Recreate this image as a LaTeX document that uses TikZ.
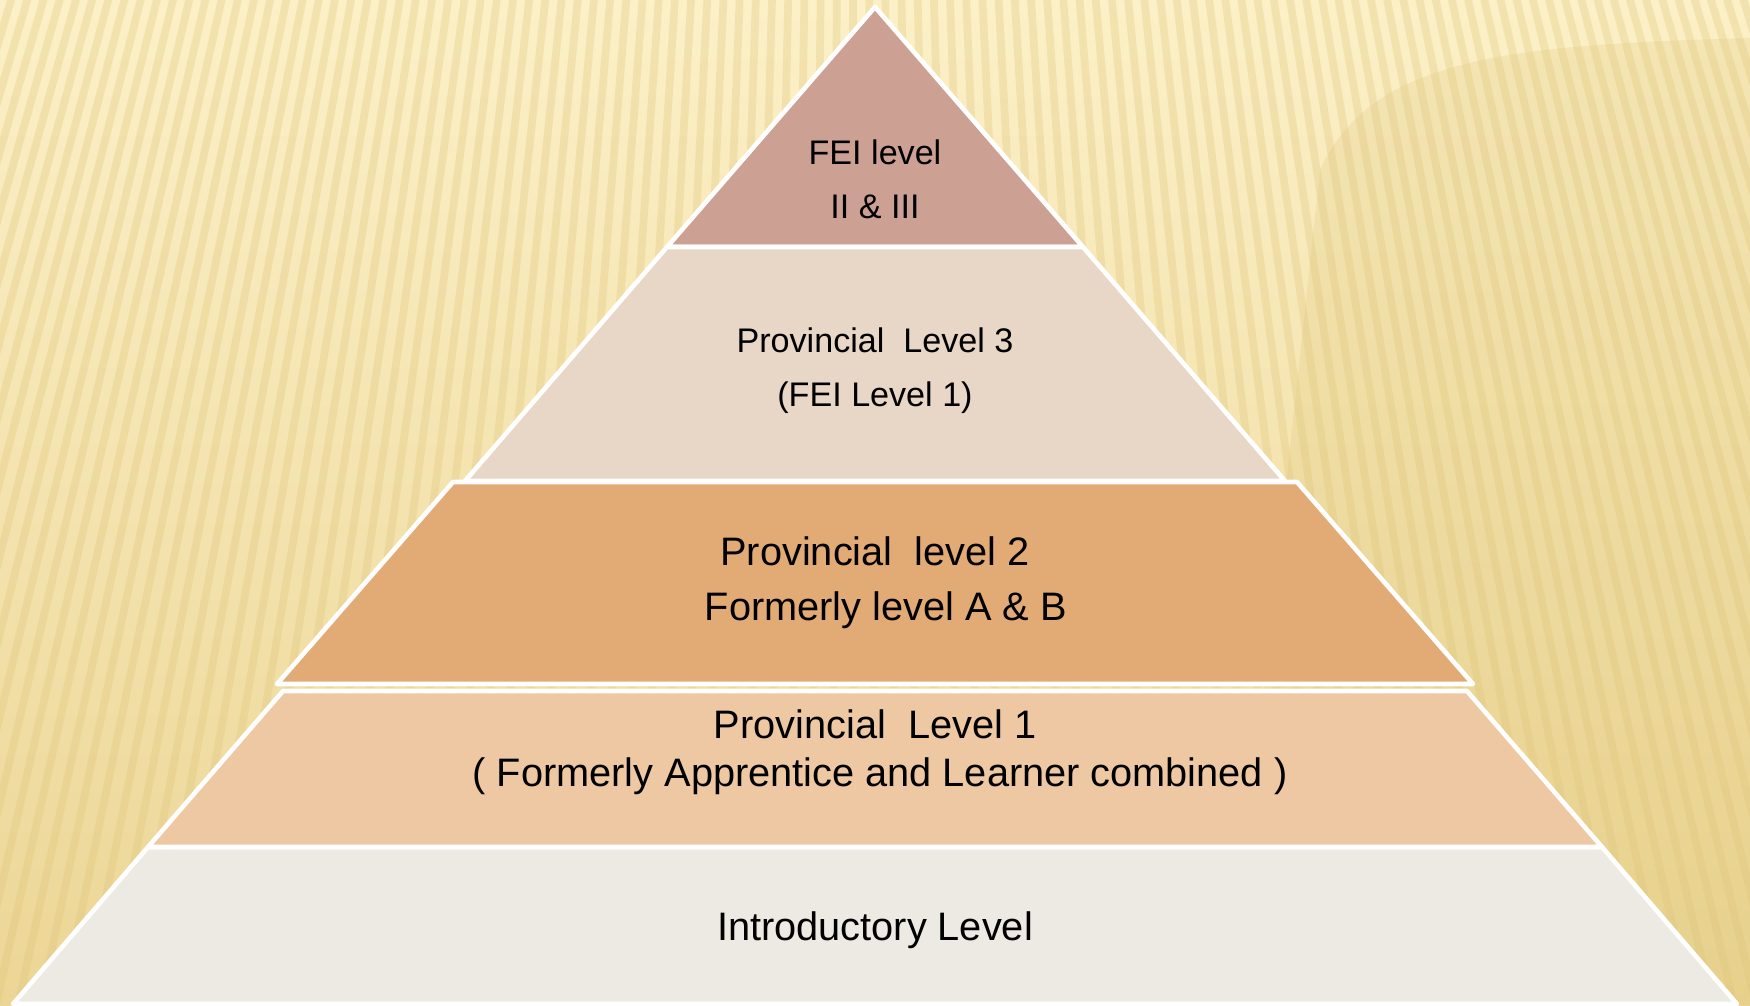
\documentclass[tikz,border=0pt]{standalone}
\usepackage{fontspec}
\setmainfont{Liberation Sans}
\usepackage{tikz}
\usetikzlibrary{calc}
\definecolor{bgTop}{RGB}{252,240,199}
\definecolor{bgBot}{RGB}{236,214,150}
\definecolor{stripeC}{RGB}{222,196,120}
\definecolor{shadeC}{RGB}{214,186,100}
\definecolor{bandA}{RGB}{204,161,147}
\definecolor{bandB}{RGB}{232,214,198}
\definecolor{bandC}{RGB}{226,171,117}
\definecolor{bandD}{RGB}{237,200,162}
\definecolor{bandE}{RGB}{237,234,227}
\tikzstyle{band}=[draw=white,line width=1.3pt,line join=round]
\tikzstyle{stripe}=[draw=stripeC,line width=2.2pt,opacity=.3]
\tikzstyle{lab}=[align=center,anchor=base,text=black,inner sep=0pt]
\newcommand{\smallfs}{\fontsize{9.7}{15.1}\selectfont}
\newcommand{\bigfs}{\fontsize{11.3}{15.6}\selectfont}
\newcommand{\tightfs}{\fontsize{11.3}{13.6}\selectfont}

\begin{document}
\begin{tikzpicture}[x=0.01cm,y=-0.01cm]
	\useasboundingbox (0,0) rectangle (1750,1005);
	\clip (0,0) rectangle (1750,1005);
%
	\shade[top color=bgTop,bottom color=bgBot] (0,0) rectangle (1750,1005);
	\fill[shadeC,opacity=.18] (1750,38) .. controls (1500,45) and (1370,60) .. (1320,170)
		-- (1230,1005) -- (1750,1005) -- cycle;
	\foreach \x in {-400,-378,...,2150} {
		\draw[stripe] (850,-2800) -- (\x,1005);
	}
%
	\coordinate (T) at (875,7);
	\path[band,fill=bandA] (T) -- (667,247) -- (1083,247) -- cycle;
	\path[band,fill=bandB] (667,247) -- (465,481) -- (1285,481) -- (1083,247) -- cycle;
	\path[band,fill=bandE] (148,847) -- (13,1004) -- (1737,1004) -- (1602,847) -- cycle;
	\path[band,fill=bandD] (283,691) -- (148,847) -- (1602,847) -- (1467,691) -- cycle;
	\path[band,fill=bandC] (453,482) -- (277,684) -- (1473,684) -- (1297,482) -- cycle;
%
	\node[lab,font=\smallfs] at (875,218) (L1) {FEI level\\II \& III};
	\node[lab,font=\smallfs] at (875,406) (L2) {Provincial\ \ Level 3\\(FEI Level 1)};
	\node[lab,font=\bigfs] at (875,620) (L3) {Provincial\ \ level 2\\\hspace*{0.22cm}Formerly level A \& B};
	\node[lab,font=\tightfs] at (875,786) (L4) {Provincial\ \ Level 1\\\hspace*{0.1cm}( Formerly Apprentice and Learner combined )};
	\node[lab,font=\bigfs] at (875,940) (L5) {Introductory Level};
\end{tikzpicture}
\end{document}
